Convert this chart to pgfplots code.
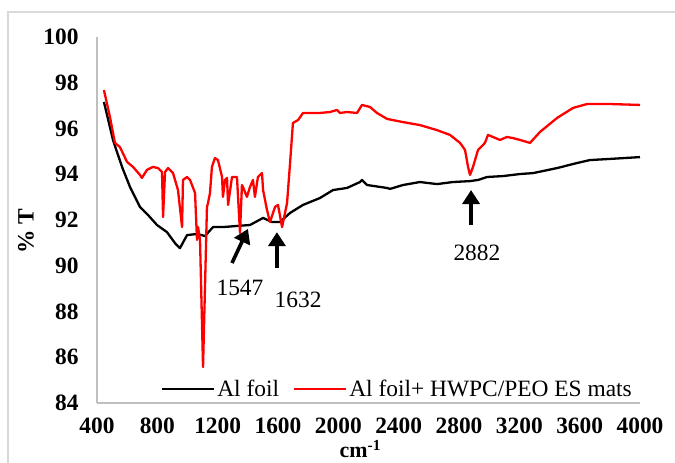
\documentclass[border=0pt]{standalone}
\usepackage{fontspec}
\setmainfont{Liberation Serif}
\usepackage{pgfplots}
\pgfplotsset{compat=1.18}
\usetikzlibrary{arrows.meta}
\definecolor{axgray}{HTML}{BFBFBF}
\definecolor{bordergray}{HTML}{D9D9D9}
\newcommand{\chartfont}{\fontsize{23.5}{28}\selectfont}

\begin{document}
\begin{tikzpicture}
\path[use as bounding box] (-97bp,-60bp) rectangle (578bp,403bp);
\draw[bordergray, line width=1.3bp] (-89bp,-70bp) -- (-89bp,391bp) -- (590bp,391bp);
\begin{axis}[
  at={(0,0)}, anchor=south west,
  width=543bp, height=366bp, scale only axis,
  xmin=400, xmax=4000, ymin=84, ymax=100,
  axis x line*=bottom, axis y line*=left,
  axis line style={axgray, line width=1.3bp, -},
  xtick={400,800,...,4000}, ytick={84,86,...,100},
  major tick length=0pt,
  tick label style={font=\chartfont\bfseries},
  /pgf/number format/assume math mode=true,
  /pgf/number format/1000 sep={},
  x tick label style={yshift=-11bp},
  y tick label style={xshift=-15bp},
  xlabel={\textbf{cm\textsuperscript{-1}}},
  xlabel style={font=\fontsize{22}{26}\selectfont, inner sep=0pt, at={(rel axis cs:0.485,0)}, anchor=base, yshift=-54.5bp},
  ylabel={\textbf{\% T}},
  ylabel style={font=\chartfont, at={(rel axis cs:0,0.47)}, anchor=center, yshift=71bp},
  legend columns=2,
  legend style={font=\chartfont, draw=none, fill=none, inner sep=0pt,
    at={(rel axis cs:1,0.038)}, anchor=east, xshift=-6bp,
    /tikz/every even column/.append style={column sep=12bp}},
  legend image code/.code={\draw[#1] (0bp,0bp) -- (52bp,0bp);},
]
\addplot[black, line width=2.3bp, line join=round] coordinates {
(446,97.16)(506,95.50)(566,94.32)(619,93.44)(685,92.57)(738,92.22)(798,91.78)
(864,91.47)(917,90.99)(950,90.77)(997,91.34)(1063,91.39)(1116,91.30)(1169,91.69)
(1235,91.69)(1328,91.74)(1414,91.78)(1501,92.09)(1560,91.91)(1613,91.91)(1680,92.31)
(1766,92.66)(1878,92.96)(1965,93.31)(2057,93.40)(2144,93.66)(2157,93.75)(2190,93.53)
(2323,93.40)(2343,93.36)(2429,93.53)(2541,93.66)(2654,93.57)(2760,93.66)(2873,93.70)
(2926,93.75)(2986,93.88)(3092,93.92)(3204,94.01)(3291,94.05)(3450,94.27)(3582,94.49)
(3668,94.62)(3801,94.67)(4000,94.75)
};
\addlegendentry{Al foil}
\addplot[red, line width=2.3bp, line join=round] coordinates {
(446,97.68)(486,96.50)(519,95.37)(552,95.19)(599,94.54)(639,94.32)(685,93.97)
(698,93.84)(731,94.19)(771,94.32)(804,94.27)(831,94.10)(838,92.13)(851,94.10)
(871,94.27)(904,94.05)(937,93.31)(964,91.69)(970,93.75)(997,93.88)(1017,93.75)
(1050,93.18)(1063,91.13)(1070,91.69)(1083,91.13)(1103,85.57)(1129,92.57)(1136,92.74)
(1149,93.18)(1162,94.32)(1182,94.71)(1202,94.62)(1229,93.88)(1235,93.01)(1249,93.75)
(1262,93.84)(1269,92.66)(1295,93.88)(1328,93.88)(1348,91.43)(1361,93.53)(1368,93.44)
(1394,93.01)(1414,93.44)(1434,93.75)(1447,93.01)(1467,93.88)(1494,94.05)(1501,93.31)
(1527,92.44)(1547,91.91)(1580,92.57)(1600,92.66)(1627,91.69)(1660,92.74)(1680,94.49)
(1699,96.24)(1733,96.37)(1766,96.68)(1878,96.68)(1945,96.72)(1991,96.81)(2011,96.68)
(2057,96.72)(2124,96.68)(2157,97.03)(2210,96.94)(2256,96.68)(2323,96.42)(2429,96.28)
(2541,96.15)(2654,95.93)(2740,95.72)(2807,95.37)(2840,95.06)(2860,94.32)(2873,93.97)
(2893,94.32)(2926,95.06)(2972,95.37)(2992,95.72)(3025,95.63)(3072,95.50)(3118,95.63)
(3158,95.58)(3204,95.50)(3271,95.37)(3337,95.85)(3450,96.46)(3556,96.90)(3649,97.07)
(3801,97.07)(4000,97.03)
};
\addlegendentry{Al foil+ HWPC/PEO ES mats}
% peak markers
\draw[line width=3.6bp, -{Triangle[length=14bp,width=17bp]}] (axis cs:1295,90.12) -- (axis cs:1401,91.61);
\draw[line width=3.6bp, -{Triangle[length=14bp,width=17bp]}] (axis cs:1593,89.90) -- (axis cs:1593,91.47);
\draw[line width=3.6bp, -{Triangle[length=14bp,width=17bp]}] (axis cs:2880,91.78) -- (axis cs:2880,93.31);
\node[font=\chartfont] at (axis cs:1348,89.03) {1547};
\node[font=\chartfont] at (axis cs:1733,88.50) {1632};
\node[font=\chartfont] at (axis cs:2919,90.56) {2882};
\end{axis}
\end{tikzpicture}
\end{document}
